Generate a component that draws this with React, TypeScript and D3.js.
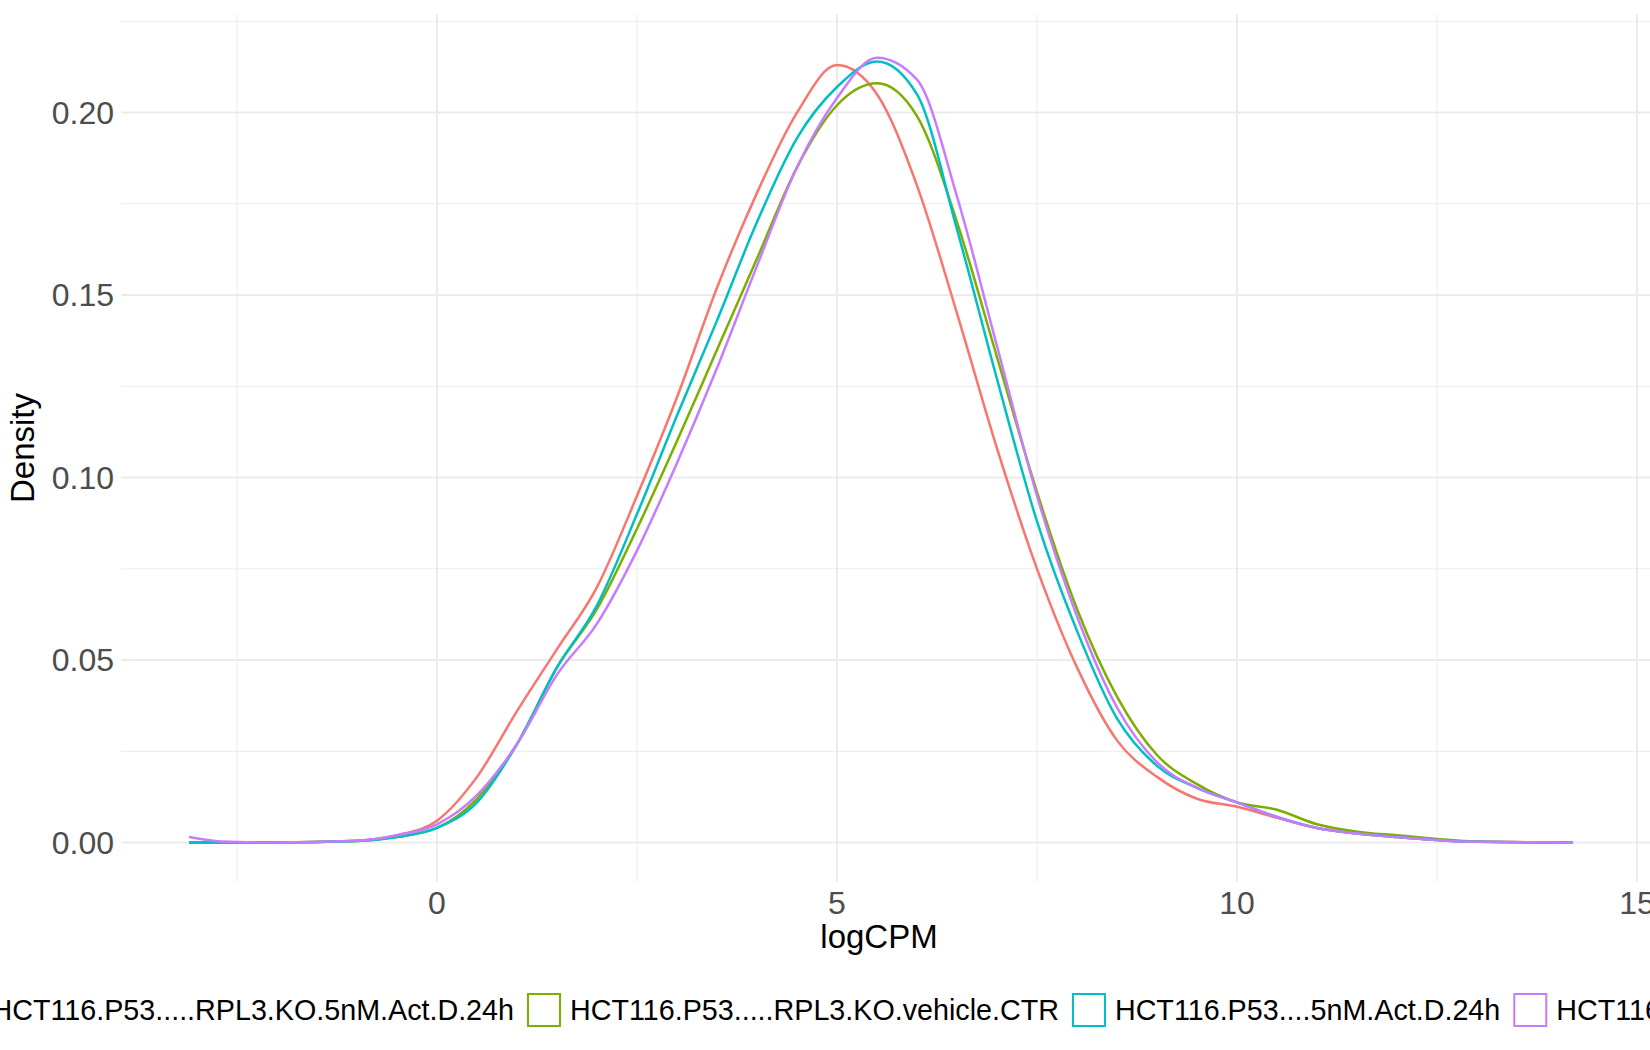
import { useEffect, useRef } from "react";
import * as d3 from "d3";

const xs = [-3.1, -2.7, -2, -1, -0.5, 0, 0.5, 1, 1.5, 2, 2.5, 3, 3.5, 4, 4.5, 5, 5.5, 6, 6.5, 7, 7.5, 8, 8.5, 9, 9.5, 10, 10.5, 11, 11.5, 12, 12.5, 13, 14.2];

const seriesNames = [
  "HCT116.P53.....RPL3.KO.5nM.Act.D.24h",
  "HCT116.P53.....RPL3.KO.vehicle.CTR",
  "HCT116.P53....5nM.Act.D.24h",
  "HCT116.P53....vehicle.CTR",
];

const redValues = [0, 0, 0, 0.0005, 0.002, 0.006, 0.018, 0.036, 0.053, 0.07, 0.095, 0.122, 0.152, 0.178, 0.2, 0.213, 0.205, 0.18, 0.145, 0.108, 0.075, 0.048, 0.028, 0.018, 0.012, 0.0098, 0.0068, 0.004, 0.0025, 0.0015, 0.0007, 0.0002, 0];
const greenValues = [0, 0, 0, 0.0004, 0.0015, 0.004, 0.012, 0.027, 0.048, 0.064, 0.086, 0.11, 0.135, 0.16, 0.185, 0.202, 0.208, 0.199, 0.17, 0.133, 0.096, 0.064, 0.04, 0.024, 0.016, 0.011, 0.009, 0.005, 0.003, 0.002, 0.001, 0.0003, 0];
const cyanValues = [0, 0, 0, 0.0004, 0.0015, 0.004, 0.011, 0.027, 0.048, 0.065, 0.09, 0.117, 0.143, 0.17, 0.193, 0.207, 0.214, 0.205, 0.168, 0.127, 0.088, 0.058, 0.034, 0.021, 0.015, 0.011, 0.007, 0.004, 0.0025, 0.0015, 0.0007, 0.0002, 0];
const purpleValues = [0.0015, 0.0003, 0, 0.0005, 0.002, 0.005, 0.013, 0.027, 0.046, 0.06, 0.08, 0.104, 0.13, 0.158, 0.185, 0.204, 0.215, 0.209, 0.177, 0.136, 0.095, 0.062, 0.037, 0.022, 0.015, 0.011, 0.007, 0.004, 0.0025, 0.0015, 0.0007, 0.0002, 0];

const COLORS = ["#F8766D", "#7CAE00", "#00BFC4", "#C77CFF"];
const xTicks = [0, 5, 10, 15];
const yTicks = [0, 0.05, 0.1, 0.15, 0.2];

export default function App() {
  const ref = useRef<SVGSVGElement>(null);

  useEffect(() => {
    if (!ref.current) return;
    const left = 121, right = 1650, top = 14, bottom = 882;
    const svg = d3.select(ref.current);
    svg.selectAll("*").remove();

    const x = d3.scaleLinear().domain([-3.95, 15.2]).range([left, left + (15.2 + 3.95) * 80]);
    const y = d3.scaleLinear().domain([-0.0108, 0.227]).range([bottom, top]);

    const grid = svg.append("g");
    const minorX = [-2.5, 2.5, 7.5, 12.5];
    const minorY = [0.025, 0.075, 0.125, 0.175, 0.225];
    minorX.forEach((v) => grid.append("line").attr("x1", x(v)).attr("x2", x(v)).attr("y1", top).attr("y2", bottom).attr("stroke", "#EBEBEB").attr("stroke-width", 1));
    minorY.forEach((v) => grid.append("line").attr("x1", left).attr("x2", right).attr("y1", y(v)).attr("y2", y(v)).attr("stroke", "#EBEBEB").attr("stroke-width", 1));
    xTicks.forEach((v) => grid.append("line").attr("x1", x(v)).attr("x2", x(v)).attr("y1", top).attr("y2", bottom).attr("stroke", "#EBEBEB").attr("stroke-width", 2));
    yTicks.forEach((v) => grid.append("line").attr("x1", left).attr("x2", right).attr("y1", y(v)).attr("y2", y(v)).attr("stroke", "#EBEBEB").attr("stroke-width", 2));

    const line = d3.line<number>().x((_, i) => x(xs[i])).y((d) => y(d)).curve(d3.curveMonotoneX);
    [redValues, greenValues, cyanValues, purpleValues].forEach((vals, i) => {
      svg.append("path").attr("d", line(vals)).attr("fill", "none").attr("stroke", COLORS[i]).attr("stroke-width", 2.5);
    });

    const font = "Liberation Sans, Arial, sans-serif";
    xTicks.forEach((v) => svg.append("text").attr("x", x(v)).attr("y", 914).attr("text-anchor", "middle").attr("font-family", font).attr("font-size", 32).attr("fill", "#4D4D4D").text(v));
    yTicks.forEach((v) => svg.append("text").attr("x", 114).attr("y", y(v)).attr("dy", "0.35em").attr("text-anchor", "end").attr("font-family", font).attr("font-size", 32).attr("fill", "#4D4D4D").text(v.toFixed(2)));

    svg.append("text").attr("x", 879).attr("y", 948).attr("text-anchor", "middle").attr("font-family", font).attr("font-size", 33).attr("fill", "#000").text("logCPM");
    svg.append("text").attr("transform", `translate(34,${(top + bottom) / 2}) rotate(-90)`).attr("text-anchor", "middle").attr("font-family", font).attr("font-size", 33).attr("fill", "#000").text("Density");

    // legend: anchor second key box, lay out the rest by measured widths
    const ly = 1010, box = 32, gap = 10, itemGap = 14;
    const lg = svg.append("g");
    const key2x = 528;
    const t1 = lg.append("text").attr("x", key2x - itemGap).attr("y", ly).attr("dy", "0.35em").attr("text-anchor", "end").attr("font-family", font).attr("font-size", 28.7).attr("fill", "#000").text(seriesNames[0]);
    const w1 = (t1.node() as SVGTextElement).getComputedTextLength();
    lg.append("rect").attr("x", key2x - itemGap - w1 - gap - box).attr("y", ly - box / 2).attr("width", box).attr("height", box).attr("fill", "white").attr("stroke", COLORS[0]).attr("stroke-width", 2);
    let cx = key2x;
    for (let i = 1; i < 4; i++) {
      lg.append("rect").attr("x", cx).attr("y", ly - box / 2).attr("width", box).attr("height", box).attr("fill", "white").attr("stroke", COLORS[i]).attr("stroke-width", 2);
      const t = lg.append("text").attr("x", cx + box + gap).attr("y", ly).attr("dy", "0.35em").attr("font-family", font).attr("font-size", 28.7).attr("fill", "#000").text(seriesNames[i]);
      cx += box + gap + (t.node() as SVGTextElement).getComputedTextLength() + itemGap;
    }
  }, []);

  return <svg ref={ref} width={1650} height={1050} style={{ position: "absolute", left: 0, top: 0, background: "white" }} />;
}
